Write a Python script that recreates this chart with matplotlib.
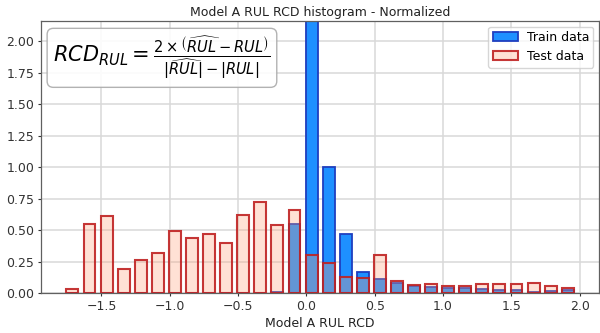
import matplotlib
matplotlib.use("Agg")
import matplotlib.pyplot as plt
import numpy as np

# Bin centers (bin width 0.125)
bin_centers = [-1.7125, -1.5875, -1.4625, -1.3375, -1.2125, -1.0875, -0.9625, -0.8375,
               -0.7125, -0.5875, -0.4625, -0.3375, -0.2125, -0.0875, 0.0375, 0.1625,
               0.2875, 0.4125, 0.5375, 0.6625, 0.7875, 0.9125, 1.0375, 1.1625,
               1.2875, 1.4125, 1.5375, 1.6625, 1.7875, 1.9125]
train_density = [0.0, 0.0, 0.0, 0.0, 0.0, 0.0, 0.0, 0.0,
                 0.0, 0.0, 0.0, 0.0, 0.01, 0.55, 5.3, 1.0,
                 0.47, 0.165, 0.11, 0.077, 0.055, 0.05, 0.042, 0.037,
                 0.032, 0.026, 0.024, 0.01, 0.016, 0.021]
test_density = [0.03, 0.55, 0.61, 0.19, 0.26, 0.32, 0.49, 0.44,
                0.47, 0.40, 0.62, 0.72, 0.54, 0.66, 0.30, 0.235,
                0.13, 0.12, 0.30, 0.095, 0.065, 0.074, 0.058, 0.058,
                0.069, 0.069, 0.069, 0.077, 0.053, 0.037]
bin_width = 0.125

fig = plt.figure(figsize=(6, 3.33), dpi=100)
ax = fig.add_axes([0.0685, 0.12, 0.93, 0.817])

w = bin_width * 0.7
ax.bar(bin_centers, train_density, width=w, color='dodgerblue', edgecolor='#1f3fbf',
       linewidth=1.3, label='Train data', zorder=2)
ax.bar(bin_centers, test_density, width=w, facecolor=(1.0, 0.63, 0.48, 0.31),
       edgecolor=(0.75, 0.13, 0.13, 0.9), linewidth=1.5, label='Test data', zorder=3)

ax.set_ylim(0, 3 * max(test_density))
ax.grid(True, color='#d9d9d9', linewidth=1.1, zorder=0)
ax.set_axisbelow(True)
for s in ax.spines.values():
    s.set_color('#606060')
    s.set_linewidth(0.9)
ax.tick_params(labelsize=9, colors='#333333', length=2.5, width=0.8, pad=2.5)
ax.set_yticks([0, 0.25, 0.5, 0.75, 1.0, 1.25, 1.5, 1.75, 2.0])
ax.set_yticklabels(['0.00', '0.25', '0.50', '0.75', '1.00', '1.25', '1.50', '1.75', '2.00'])

ax.set_title('Model A RUL RCD histogram - Normalized', fontsize=9, color='#222222', pad=3.5)
ax.set_xlabel('Model A RUL RCD', fontsize=9, color='#222222', labelpad=3)

ax.text(0.022, 0.95,
        r'$RCD_{RUL} = \frac{2\times\left(\widehat{RUL}-RUL\right)}{|\widehat{RUL}|-|RUL|}$',
        transform=ax.transAxes, fontsize=15, va='top', ha='left',
        bbox=dict(boxstyle='round,pad=0.3', facecolor='white', edgecolor='#aaaaaa', alpha=0.9))

ax.legend(loc='upper right', fontsize=9, framealpha=0.8, borderpad=0.35,
          handletextpad=0.7, borderaxespad=0.45)

fig.savefig('out.png', dpi=100)
